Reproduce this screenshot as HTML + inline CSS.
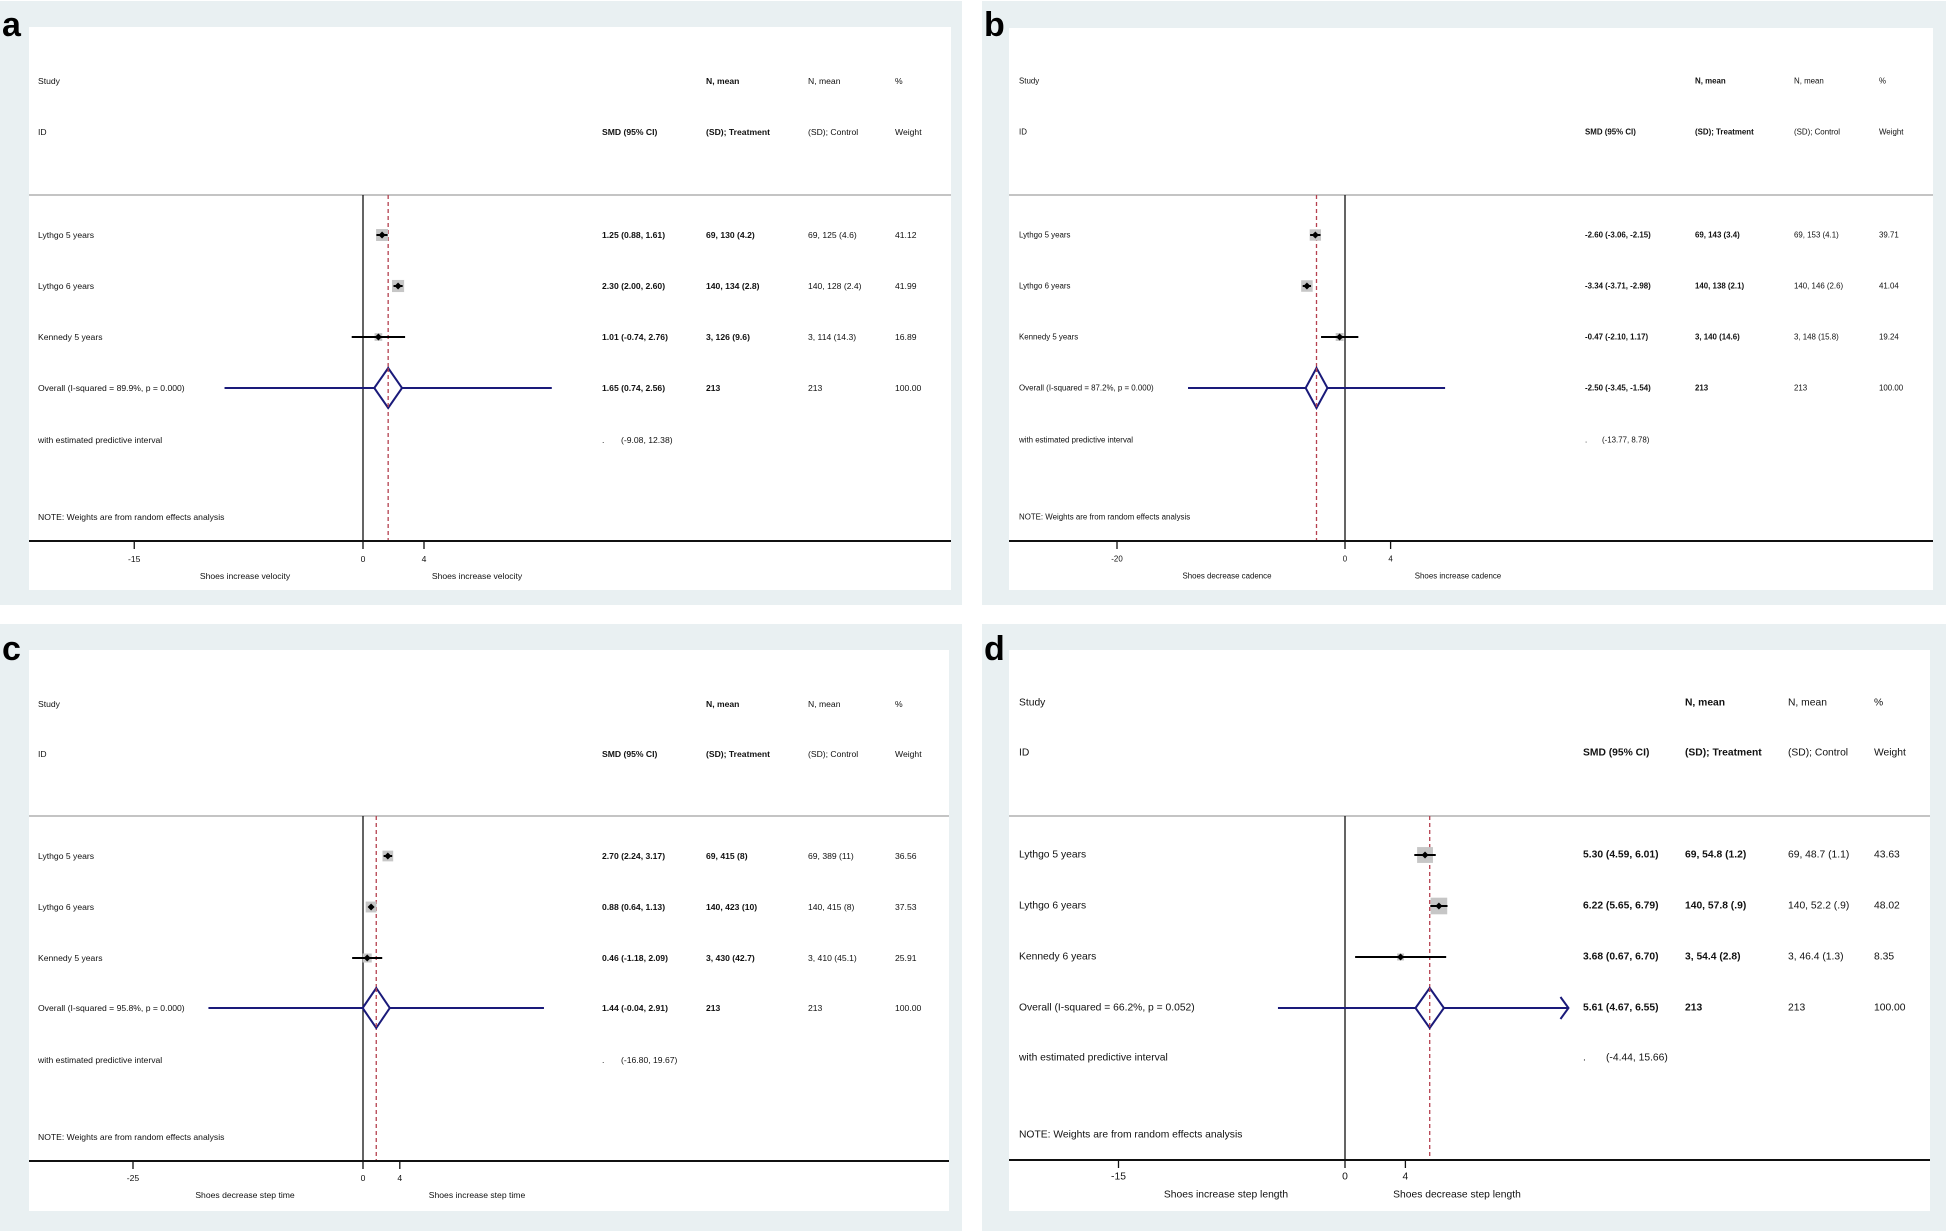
<!DOCTYPE html>
<html><head><meta charset="utf-8"><title>Forest plots</title>
<style>
html,body{margin:0;padding:0;background:#fff;}
svg{display:block;font-family:"Liberation Sans",Arial,sans-serif;}
</style></head>
<body>
<svg id="fig" width="1946" height="1231" viewBox="0 0 1946 1231" xmlns="http://www.w3.org/2000/svg"></svg>
<script>
// ---------- data ----------
const studiesA = ["Lythgo 5 years","Lythgo 6 years","Kennedy 5 years"];
const estA = [1.25, 2.30, 1.01];
const loA = [0.88, 2.00, -0.74];
const hiA = [1.61, 2.60, 2.76];
const treatA = ["69, 130 (4.2)","140, 134 (2.8)","3, 126 (9.6)"];
const ctrlA = ["69, 125 (4.6)","140, 128 (2.4)","3, 114 (14.3)"];
const wA = [41.12, 41.99, 16.89];
const overallA = [1.65, 0.74, 2.56];
const predA = [-9.08, 12.38];
const ticksA = [-15, 0, 4];

const studiesB = ["Lythgo 5 years","Lythgo 6 years","Kennedy 5 years"];
const estB = [-2.60, -3.34, -0.47];
const loB = [-3.06, -3.71, -2.10];
const hiB = [-2.15, -2.98, 1.17];
const treatB = ["69, 143 (3.4)","140, 138 (2.1)","3, 140 (14.6)"];
const ctrlB = ["69, 153 (4.1)","140, 146 (2.6)","3, 148 (15.8)"];
const wB = [39.71, 41.04, 19.24];
const overallB = [-2.50, -3.45, -1.54];
const predB = [-13.77, 8.78];
const ticksB = [-20, 0, 4];

const studiesC = ["Lythgo 5 years","Lythgo 6 years","Kennedy 5 years"];
const estC = [2.70, 0.88, 0.46];
const loC = [2.24, 0.64, -1.18];
const hiC = [3.17, 1.13, 2.09];
const treatC = ["69, 415 (8)","140, 423 (10)","3, 430 (42.7)"];
const ctrlC = ["69, 389 (11)","140, 415 (8)","3, 410 (45.1)"];
const wC = [36.56, 37.53, 25.91];
const overallC = [1.44, -0.04, 2.91];
const predC = [-16.80, 19.67];
const ticksC = [-25, 0, 4];

const studiesD = ["Lythgo 5 years","Lythgo 6 years","Kennedy 6 years"];
const estD = [5.30, 6.22, 3.68];
const loD = [4.59, 5.65, 0.67];
const hiD = [6.01, 6.79, 6.70];
const treatD = ["69, 54.8 (1.2)","140, 57.8 (.9)","3, 54.4 (2.8)"];
const ctrlD = ["69, 48.7 (1.1)","140, 52.2 (.9)","3, 46.4 (1.3)"];
const wD = [43.63, 48.02, 8.35];
const overallD = [5.61, 4.67, 6.55];
const predD = [-4.44, 15.66];
const ticksD = [-15, 0, 4];

const NS = "http://www.w3.org/2000/svg";
const svg = document.getElementById('fig');
function mk(tag, attrs, parent){
  const e = document.createElementNS(NS, tag);
  for (const k in attrs) e.setAttribute(k, attrs[k]);
  (parent||svg).appendChild(e);
  return e;
}
function txt(s, x, y, fs, bold, parent, anchor){
  const t = mk('text', {x:x, y:y, 'font-size':fs, 'dominant-baseline':'central', fill:'#111'}, parent);
  if (bold) t.setAttribute('font-weight','bold');
  if (anchor) t.setAttribute('text-anchor', anchor);
  t.textContent = s;
  return t;
}
function fmt(v){ return v.toFixed(2); }

function panel(P){
  const g = mk('g', {});
  
  
  const bg = mk('rect', {x:P.gx, y:P.gy, width:P.gw, height:P.gh, fill:'#e9f0f2'}, g);
  
  
  const wh = mk('rect', {x:P.wx, y:P.wy, width:P.ww, height:P.wh, fill:'#ffffff'}, g);
  
  
  const lab = mk('text', {x:P.gx+2, y:P.ly, 'font-size':34, 'font-weight':'bold', fill:'#000'}, g);
  lab.textContent = P.letter;
  
  
  const X = v => P.zero + v * P.scale;
  const fs = P.fs;
  // header
  const hdr = mk('g', {}, g);
  
  
  txt('Study', P.cs, P.yStudy, fs, false, hdr);
  txt('N, mean', P.ct, P.yStudy, fs, true, hdr);
  txt('N, mean', P.cc, P.yStudy, fs, false, hdr);
  txt('%', P.cw, P.yStudy, fs, false, hdr);
  txt('ID', P.cs, P.yID, fs, false, hdr);
  txt('SMD (95% CI)', P.cm, P.yID, fs, true, hdr);
  txt('(SD); Treatment', P.ct, P.yID, fs, true, hdr);
  txt('(SD); Control', P.cc, P.yID, fs, false, hdr);
  txt('Weight', P.cw, P.yID, fs, false, hdr);
  const sep = mk('line', {x1:P.wx, x2:P.wx+P.ww, y1:P.ySep, y2:P.ySep, stroke:'#c4c4c4', 'stroke-width':2}, g);
  
  
  // zero line & overall dashed line
  const zl = mk('line', {x1:X(0), x2:X(0), y1:P.ySep, y2:P.yAxis, stroke:'#111', 'stroke-width':1.3}, g);
  
  
  const dl = mk('line', {x1:X(P.overall[0]), x2:X(P.overall[0]), y1:P.ySep, y2:P.yAxis, stroke:'#b5404f', 'stroke-width':1.3, 'stroke-dasharray':'4,3'}, g);
  
  
  // studies
  for (let i=0;i<P.studies.length;i++){
    const y = P.rows[i];
    const rg = mk('g', {}, g);
    
    
    txt(P.studies[i], P.cs, y, fs, false, rg);
    const s = P.boxK * Math.sqrt(P.w[i]);
    const box = mk('rect', {x:X(P.est[i])-s/2, y:y-s/2, width:s, height:s, fill:'#c6c6c6'}, rg);
    
    
    const ci = mk('line', {x1:X(P.lo[i]), x2:X(P.hi[i]), y1:y, y2:y, stroke:'#000', 'stroke-width':2}, rg);
    
    
    const pt = mk('path', {d:`M${X(P.est[i])-3.5},${y} L${X(P.est[i])},${y-3.5} L${X(P.est[i])+3.5},${y} L${X(P.est[i])},${y+3.5} Z`, fill:'#000'}, rg);
    
    
    txt(fmt(P.est[i])+' ('+fmt(P.lo[i])+', '+fmt(P.hi[i])+')', P.cm, y, fs, true, rg);
    txt(P.treat[i], P.ct, y, fs, true, rg);
    txt(P.ctrl[i], P.cc, y, fs, false, rg);
    txt(P.w[i].toFixed(2), P.cw, y, fs, false, rg);
  }
  // overall
  const yo = P.rows[3];
  const og = mk('g', {}, g);
  
  
  txt(P.overallLabel, P.cs, yo, fs, false, og);
  const pHi = Math.min(P.pred[1], P.xmax);
  const pl = mk('line', {x1:X(P.pred[0]), x2:X(pHi), y1:yo, y2:yo, stroke:'#1a1a7a', 'stroke-width':2}, og);
  
  
  if (P.pred[1] > P.xmax){
    const ar = mk('path', {d:`M${X(pHi)-8},${yo-11} L${X(pHi)},${yo} L${X(pHi)-8},${yo+11}`, fill:'none', stroke:'#1a1a7a', 'stroke-width':2}, og);
    
    
  }
  const dm = mk('path', {d:`M${X(P.overall[1])},${yo} L${X(P.overall[0])},${yo-20} L${X(P.overall[2])},${yo} L${X(P.overall[0])},${yo+20} Z`, fill:'#fff', stroke:'#1a1a7a', 'stroke-width':2}, og);
  
  
  const dl2 = mk('line', {x1:X(P.overall[0]), x2:X(P.overall[0]), y1:yo-20, y2:yo+20, stroke:'#b5404f', 'stroke-width':1.3, 'stroke-dasharray':'4,3'}, og);
  
  
  txt(fmt(P.overall[0])+' ('+fmt(P.overall[1])+', '+fmt(P.overall[2])+')', P.cm, yo, fs, true, og);
  txt('213', P.ct, yo, fs, true, og);
  txt('213', P.cc, yo, fs, false, og);
  txt('100.00', P.cw, yo, fs, false, og);
  const yp = P.rows[4];
  const pg = mk('g', {}, g);
  
  
  txt('with estimated predictive interval', P.cs, yp, fs, false, pg);
  txt('.', P.cm, yp, fs, false, pg);
  txt('('+fmt(P.pred[0])+', '+fmt(P.pred[1])+')', P.cm + P.predOff, yp, fs, false, pg);
  const note = txt('NOTE: Weights are from random effects analysis', P.cs, P.yNote, fs, false, g);
  
  
  // axis
  const ax = mk('g', {}, g);
  
  
  mk('line', {x1:P.wx, x2:P.wx+P.ww, y1:P.yAxis, y2:P.yAxis, stroke:'#111', 'stroke-width':2}, ax);
  for (const t of P.ticks){
    mk('line', {x1:X(t), x2:X(t), y1:P.yAxis, y2:P.yAxis+8, stroke:'#111', 'stroke-width':1.3}, ax);
    txt(String(t), X(t), P.yTick, fs, false, ax, 'middle');
  }
  const t1 = txt(P.titleL, P.tl, P.yTitle, fs, false, g, 'middle');
  
  
  const t2 = txt(P.titleR, P.tr, P.yTitle, fs, false, g, 'middle');
  
  
}

panel({letter:'a', gx:0, gy:1, gw:962, gh:604, wx:29, wy:27, ww:922, wh:563, ly:36,
  fs:8.6, cs:38, cm:602, ct:706, cc:808, cw:895, predOff:19,
  yStudy:81, yID:132, ySep:195, rows:[235,286,337,388,440], yNote:517, yAxis:541, yTick:559, yTitle:576,
  zero:363, scale:15.25, xmax:99, boxK:1.87,
  studies:studiesA, est:estA, lo:loA, hi:hiA, treat:treatA, ctrl:ctrlA, w:wA, overall:overallA, pred:predA, ticks:ticksA,
  overallLabel:'Overall  (I-squared = 89.9%, p = 0.000)', titleL:'Shoes increase velocity', titleR:'Shoes increase velocity', tl:245, tr:477});

panel({letter:'b', gx:982, gy:1, gw:964, gh:604, wx:1009, wy:28, ww:924, wh:562, ly:36,
  fs:7.9, cs:1019, cm:1585, ct:1695, cc:1794, cw:1879, predOff:17,
  yStudy:81, yID:132, ySep:195, rows:[235,286,337,388,440], yNote:517, yAxis:541, yTick:559, yTitle:576,
  zero:1345, scale:11.4, xmax:99, boxK:1.8,
  studies:studiesB, est:estB, lo:loB, hi:hiB, treat:treatB, ctrl:ctrlB, w:wB, overall:overallB, pred:predB, ticks:ticksB,
  overallLabel:'Overall  (I-squared = 87.2%, p = 0.000)', titleL:'Shoes decrease cadence', titleR:'Shoes increase cadence', tl:1227, tr:1458});

panel({letter:'c', gx:0, gy:624, gw:962, gh:607, wx:29, wy:650, ww:920, wh:561, ly:660,
  fs:8.6, cs:38, cm:602, ct:706, cc:808, cw:895, predOff:19,
  yStudy:704, yID:754, ySep:816, rows:[856,907,958,1008,1060], yNote:1137, yAxis:1161, yTick:1178, yTitle:1195,
  zero:363, scale:9.2, xmax:99, boxK:1.77,
  studies:studiesC, est:estC, lo:loC, hi:hiC, treat:treatC, ctrl:ctrlC, w:wC, overall:overallC, pred:predC, ticks:ticksC,
  overallLabel:'Overall  (I-squared = 95.8%, p = 0.000)', titleL:'Shoes decrease step time', titleR:'Shoes increase step time', tl:245, tr:477});

panel({letter:'d', gx:982, gy:624, gw:964, gh:607, wx:1009, wy:650, ww:921, wh:561, ly:660,
  fs:10.3, cs:1019, cm:1583, ct:1685, cc:1788, cw:1874, predOff:23,
  yStudy:703, yID:753, ySep:816, rows:[855,906,957,1008,1058], yNote:1135, yAxis:1160, yTick:1177, yTitle:1195,
  zero:1345, scale:15.1, xmax:14.8, boxK:2.4,
  studies:studiesD, est:estD, lo:loD, hi:hiD, treat:treatD, ctrl:ctrlD, w:wD, overall:overallD, pred:predD, ticks:ticksD,
  overallLabel:'Overall  (I-squared = 66.2%, p = 0.052)', titleL:'Shoes increase step length', titleR:'Shoes decrease step length', tl:1226, tr:1457});
</script>
</body></html>
